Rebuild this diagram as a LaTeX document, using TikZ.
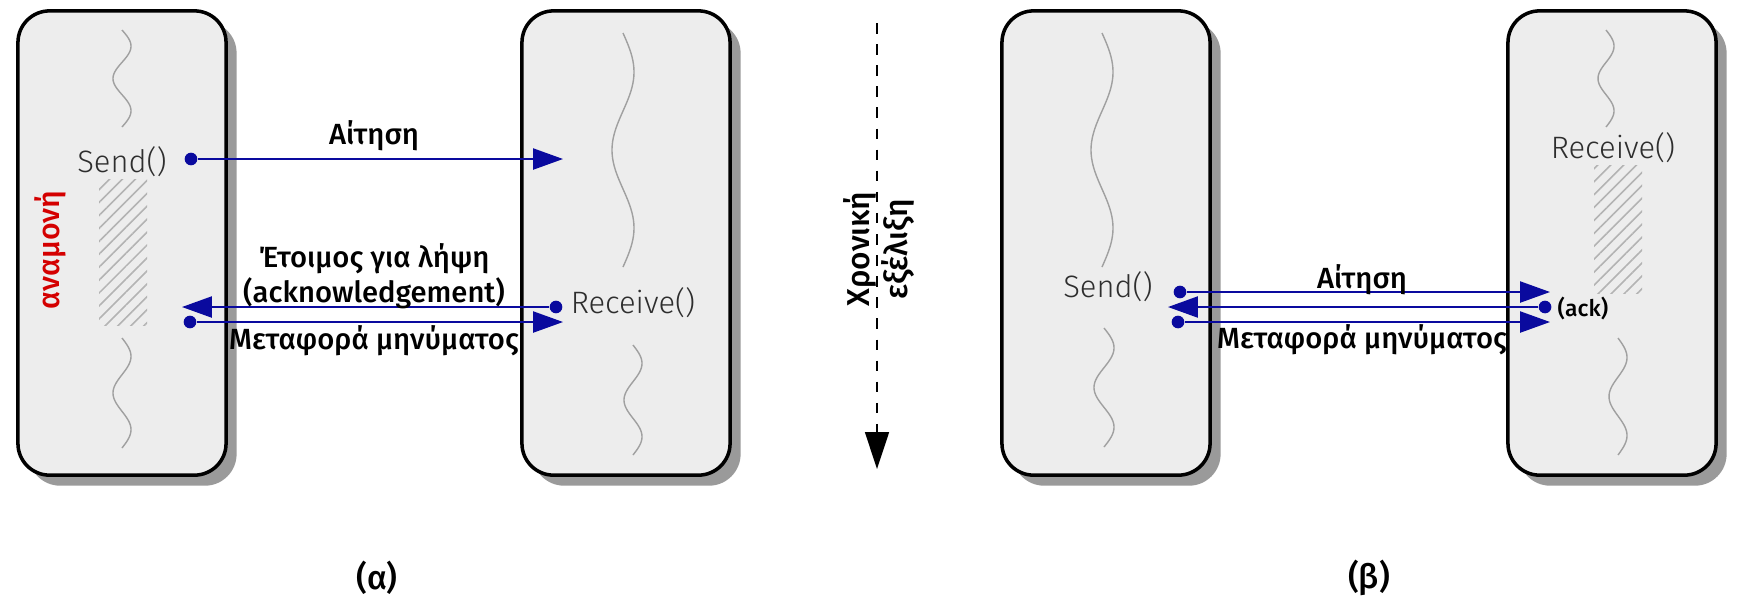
\documentclass[tikz,border=0pt]{standalone}
\usepackage{fontspec}
\setmainfont{Fira Sans}[BoldFont={Fira Sans Medium}]
\newfontfamily\lightfont{Fira Sans Light}
\usetikzlibrary{arrows.meta, positioning, shadows, patterns.meta}
\definecolor{procfill}{HTML}{EDEDED}
\definecolor{procshade}{HTML}{9A9A9A}
\definecolor{msgblue}{HTML}{0A0A9E}
\definecolor{wavegray}{HTML}{A0A0A0}
\definecolor{waitred}{HTML}{D40000}
\definecolor{callgray}{HTML}{2E2E2E}

\begin{document}
\begin{tikzpicture}[x=0.01cm, y=-0.01cm,
    >={Triangle[length=8.5pt, width=6pt]},
    procbox/.style={draw, line width=1pt, fill=procfill, rounded corners=9pt,
      minimum width=2.08cm, minimum height=4.64cm, inner sep=0pt,
      drop shadow={shadow xshift=3pt, shadow yshift=-3pt, fill=procshade, opacity=1}},
    wave/.style={wavegray, line width=0.4pt},
    waitbar/.style={pattern={Lines[angle=45, distance=2.6pt, line width=0.45pt]},
      pattern color=wavegray!80},
    msgdot/.style={circle, fill=msgblue, inner sep=0pt, minimum size=3.6pt},
    msg/.style={->, msgblue, line width=0.5pt},
    msglabel/.style={font=\bfseries\fontsize{8.3}{8.8}\selectfont, align=center},
    calltext/.style={callgray, font=\lightfont\fontsize{8.8}{10}\selectfont},
    caption/.style={font=\bfseries\fontsize{9.5}{11}\selectfont}]
      \useasboundingbox (0,0) rectangle (1737,599);

      \node[procbox] (pa) at (122,243) {};
      \node[procbox] (pb) at (626,243) {};
      \node[procbox] (pc) at (1106,243) {};
      \node[procbox] (pd) at (1612,243) {};

      \foreach \cx/\ya/\yb/\amp in {122/30/127/9, 122/338/448/9,
        623/33/267/11, 633/345/455/9, 1102/33/267/11, 1104/328/447/10,
        1606/30/127/8, 1618/338/455/9} {
        \draw[wave] plot[domain=0:540, samples=70, variable=\t]
          ({\cx+\amp*sin(\t)}, {\ya+(\yb-\ya)*(\t/540)});
      }

      \fill[waitbar] (99,179) rectangle (147,325);
      \fill[waitbar] (1594,165) rectangle (1642,293);

      % (a)
      \node[calltext] (senda) at (122,162) {Send()};
      \node[calltext] (recva) at (633,303) {Receive()};
      \node[waitred, rotate=90, font=\bfseries\fontsize{8.6}{10}\selectfont]
        (wait) at (50,250) {αναμονή};

      \node[msgdot] (sa) at (191,159) {};
      \coordinate (ra) at (563,159);
      \node[msgdot] (rb) at (556,307) {};
      \coordinate (sb) at (182,307);
      \node[msgdot] (sc) at (190,322) {};
      \coordinate (rc) at (563,322);
      \draw[msg] (sa) -- (ra);
      \draw[msg] (rb) -- (sb);
      \draw[msg] (sc) -- (rc);

      \node[msglabel] (reqa) at (374,136) {Αίτηση};
      \node[msglabel] (acka) at (374,276) {Έτοιμος για λήψη\\(acknowledgement)};
      \node[msglabel] (xfera) at (374,341) {Μεταφορά μηνύματος};

      % time
      \coordinate (ttop) at (877,23);
      \coordinate (tbot) at (877,469);
      \draw[-{Triangle[length=10.5pt, width=6.8pt]}, dashed, line width=0.5pt]
        (ttop) -- (tbot);
      \node[rotate=90, align=center, font=\bfseries\fontsize{9}{10.8}\selectfont]
        (time) at (879,249) {Χρονική\\εξέλιξη};

      % (b)
      \node[calltext] (sendb) at (1108,287) {Send()};
      \node[calltext] (recvb) at (1613,148) {Receive()};

      \node[msgdot] (sd) at (1180,292) {};
      \coordinate (rd) at (1550,292);
      \node[msgdot] (re) at (1545,307) {};
      \coordinate (se) at (1168,307);
      \node[msgdot] (sf) at (1178,322) {};
      \coordinate (rf) at (1550,322);
      \draw[msg] (sd) -- (rd);
      \draw[msg] (re) -- (se);
      \draw[msg] (sf) -- (rf);

      \node[msglabel] (reqb) at (1362,280) {Αίτηση};
      \node[msglabel] (xferb) at (1362,340) {Μεταφορά μηνύματος};
      \node[anchor=west, inner sep=0pt, font=\bfseries\fontsize{6.5}{8}\selectfont]
        (ackb) at (1557,308) {(ack)};

      \node[caption] (capa) at (377,578) {(α)};
      \node[caption] (capb) at (1369,578) {(β)};
    \end{tikzpicture}
\end{document}
